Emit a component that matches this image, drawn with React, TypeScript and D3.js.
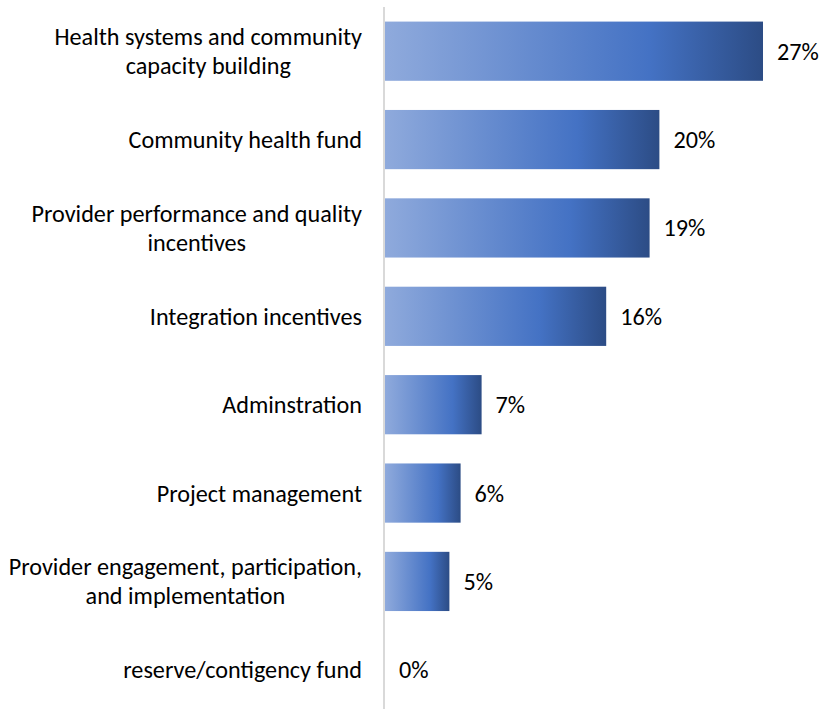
import React from 'react';
import * as d3 from 'd3';

const categories = [
  'Health systems and community capacity building',
  'Community health fund',
  'Provider performance and quality incentives',
  'Integration incentives',
  'Adminstration',
  'Project management',
  'Provider engagement, participation, and implementation',
  'reserve/contigency fund',
];

// label lines as they wrap in the original
const categoryLines = [
  ['Health systems and community', 'capacity building'],
  ['Community health fund'],
  ['Provider performance and quality', 'incentives'],
  ['Integration incentives'],
  ['Adminstration'],
  ['Project management'],
  ['Provider engagement, participation,', 'and implementation'],
  ['reserve/contigency fund'],
];

const values = [27, 19.6, 18.9, 15.8, 6.9, 5.4, 4.6, 0];
const valueLabels = ['27%', '20%', '19%', '16%', '7%', '6%', '5%', '0%'];

const width = 820;
const height = 709;
const font = 'Carlito, Calibri, Lato, sans-serif';
const fontSize = 24.2;

const App: React.FC = () => {
  const ref = React.useRef<SVGSVGElement>(null);

  React.useEffect(() => {
    const svg = d3.select(ref.current);
    svg.selectAll('*').remove();

    const x = d3.scaleLinear().domain([0, 27]).range([385, 763]);
    const y = d3
      .scaleBand()
      .domain(categories)
      .range([7, 714])
      .paddingInner(0.33)
      .paddingOuter(0.165);

    const defs = svg.append('defs');
    const grad = defs
      .append('linearGradient')
      .attr('id', 'barGrad')
      .attr('x1', '0%')
      .attr('x2', '100%')
      .attr('y1', '0%')
      .attr('y2', '0%');
    grad.append('stop').attr('offset', '0%').attr('stop-color', '#8faadc');
    grad.append('stop').attr('offset', '70%').attr('stop-color', '#4472c4');
    grad.append('stop').attr('offset', '100%').attr('stop-color', '#2c4c85');

    svg
      .selectAll('rect.bar')
      .data(values)
      .enter()
      .append('rect')
      .attr('class', 'bar')
      .attr('x', x(0))
      .attr('y', (_, i) => y(categories[i])!)
      .attr('width', (d) => x(d) - x(0))
      .attr('height', y.bandwidth())
      .attr('fill', 'url(#barGrad)');

    // axis line
    svg
      .append('line')
      .attr('x1', x(0) - 1)
      .attr('x2', x(0) - 1)
      .attr('y1', 7)
      .attr('y2', height)
      .attr('stroke', '#d9d9d9')
      .attr('stroke-width', 2);

    // category labels: block right-aligned, lines centred within block
    const lineH = 29;
    const labelRight = 362;
    categoryLines.forEach((lines, i) => {
      const cy = y(categories[i])! + y.bandwidth() / 2;
      const start = cy - ((lines.length - 1) * lineH) / 2;
      const g = svg.append('g');
      const texts = lines.map((ln, j) =>
        g
          .append('text')
          .attr('y', start + j * lineH)
          .attr('dy', '0.35em')
          .attr('text-anchor', 'middle')
          .attr('font-family', font)
          .attr('font-size', fontSize)
          .attr('fill', '#000')
          .text(ln)
      );
      const widest = d3.max(texts, (t) => (t.node() as SVGTextElement).getComputedTextLength()) || 0;
      const cx = labelRight - widest / 2;
      texts.forEach((t) => t.attr('x', cx));
    });

    // value labels
    svg
      .selectAll('text.val')
      .data(values)
      .enter()
      .append('text')
      .attr('class', 'val')
      .attr('x', (d) => x(d) + 14)
      .attr('y', (_, i) => y(categories[i])! + y.bandwidth() / 2)
      .attr('dy', '0.35em')
      .attr('font-family', font)
      .attr('font-size', fontSize)
      .attr('fill', '#000')
      .text((_, i) => valueLabels[i]);
  }, []);

  return (
    <svg
      ref={ref}
      width={width}
      height={height}
      style={{ display: 'block', position: 'absolute', left: 0, top: 0 }}
    />
  );
};

export default App;
